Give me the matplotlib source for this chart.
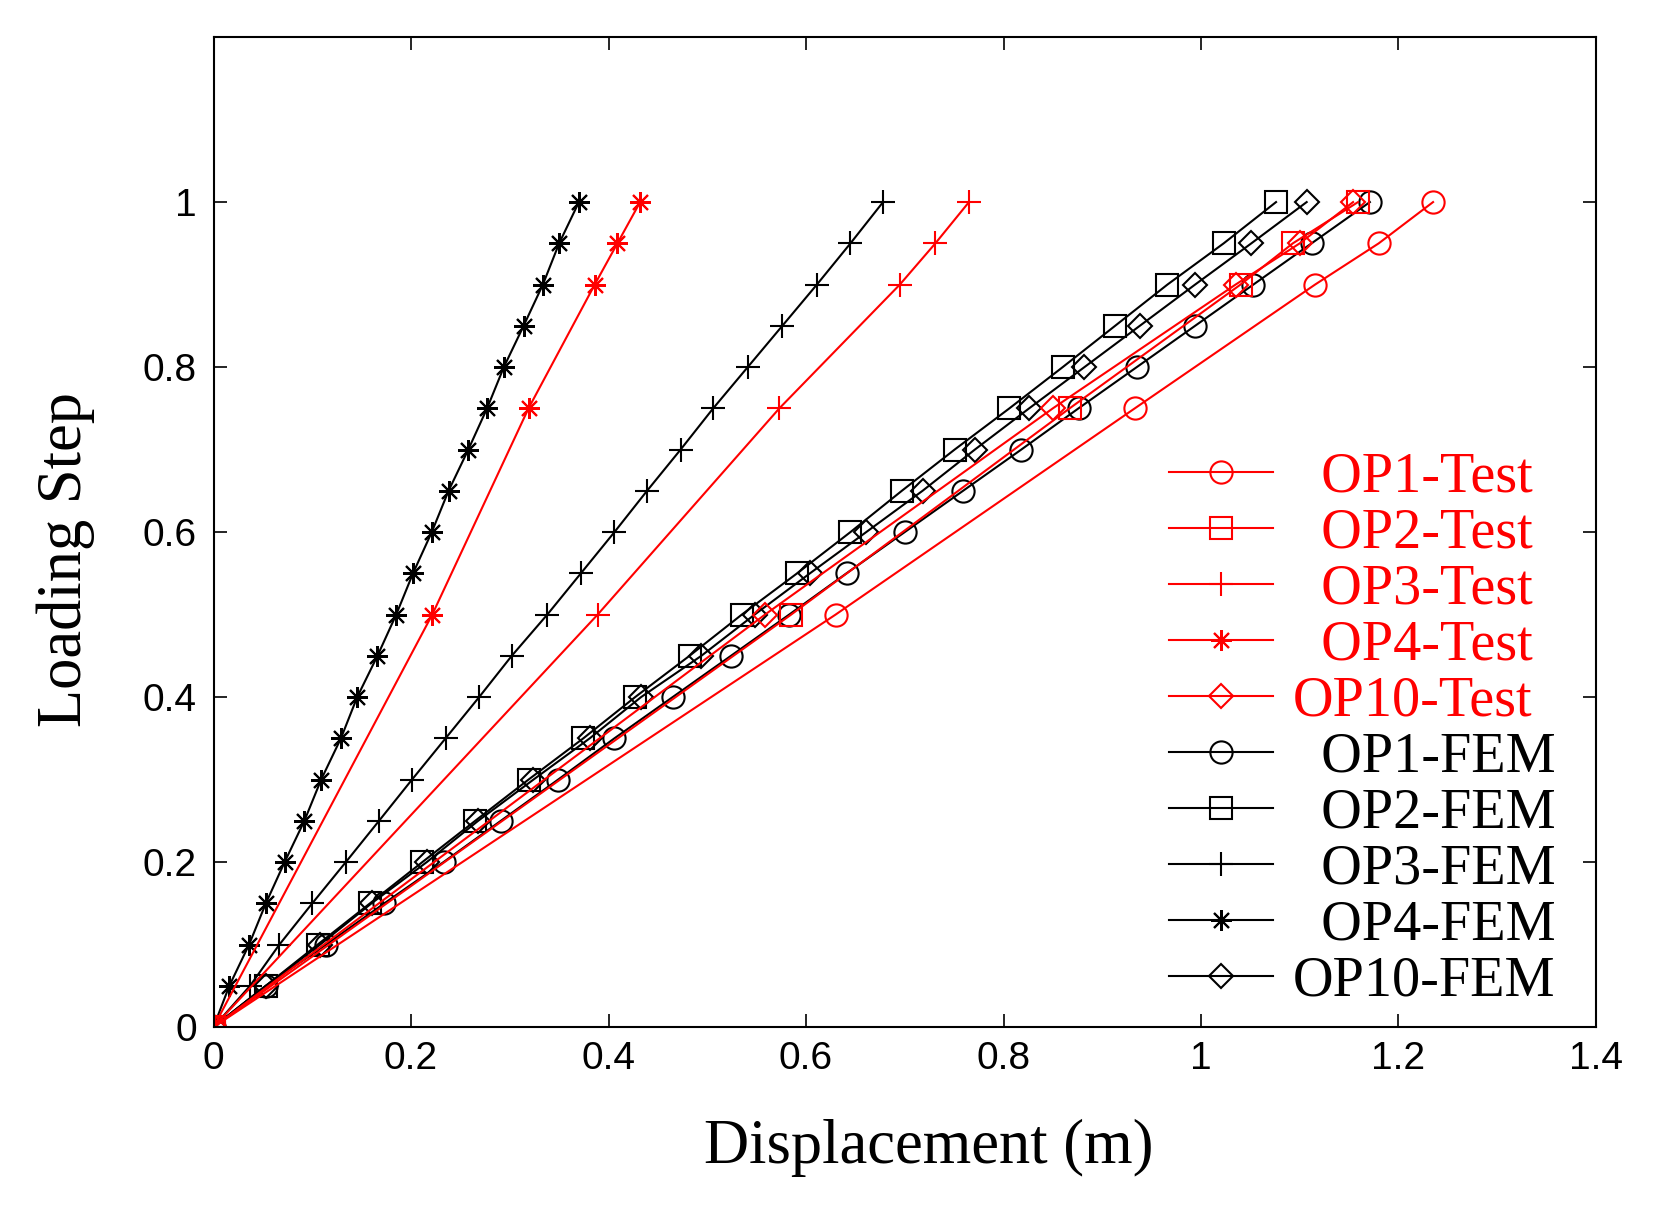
import numpy as np
import matplotlib
matplotlib.use("Agg")
from matplotlib import pyplot as plt

# loading steps
steps_fem = [0, 0.05, 0.1, 0.15, 0.2, 0.25, 0.3, 0.35, 0.4, 0.45, 0.5,
             0.55, 0.6, 0.65, 0.7, 0.75, 0.8, 0.85, 0.9, 0.95, 1.0]
steps_test = [0, 0.5, 0.75, 0.9, 0.95, 1.0]

# test displacements (m)
op1_test = [0, 0.630, 0.933, 1.1155, 1.180, 1.235]
op2_test = [0, 0.585, 0.867, 1.040, 1.093, 1.159]
op3_test = [0, 0.389, 0.573, 0.695, 0.731, 0.765]
op4_test = [0, 0.2215, 0.319, 0.386, 0.409, 0.432]
op10_test = [0, 0.5585, 0.850, 1.035, 1.100, 1.154]

# FEM displacements (m)
op1_fem = [0, 0.053, 0.114, 0.173, 0.233, 0.291, 0.349, 0.406, 0.465, 0.524, 0.583,
           0.641, 0.700, 0.759, 0.818, 0.876, 0.935, 0.994, 1.053, 1.112, 1.171]
op2_fem = [0, 0.053, 0.1055, 0.1585, 0.2115, 0.265, 0.319, 0.3745, 0.427, 0.482, 0.535,
           0.591, 0.645, 0.697, 0.7505, 0.806, 0.860, 0.913, 0.966, 1.023, 1.076]
op3_fem = [0, 0.037, 0.0667, 0.100, 0.134, 0.1676, 0.201, 0.235, 0.269, 0.302, 0.338,
           0.372, 0.406, 0.439, 0.473, 0.506, 0.541, 0.576, 0.611, 0.645, 0.678]
op4_fem = [0, 0.016, 0.036, 0.053, 0.072, 0.092, 0.109, 0.129, 0.1455, 0.166, 0.185,
           0.202, 0.221, 0.238, 0.258, 0.277, 0.294, 0.314, 0.3335, 0.350, 0.370]
op10_fem = [0, 0.053, 0.108, 0.160, 0.216, 0.268, 0.324, 0.381, 0.433, 0.494, 0.548,
            0.604, 0.661, 0.718, 0.771, 0.826, 0.882, 0.938, 0.994, 1.051, 1.107]

asterisk = (8, 2, 0)
markers = ["o", "s", "+", asterisk, "D"]
sizes = [16, 16, 17, 15, 12]
names = ["OP1", "OP2", "OP3", "OP4", "OP10"]
pads = ["  ", "  ", "  ", "  ", ""]
tests = [op1_test, op2_test, op3_test, op4_test, op10_test]
fems = [op1_fem, op2_fem, op3_fem, op4_fem, op10_fem]

fig = plt.figure(figsize=(16.58, 12.16), dpi=100)
ax = fig.add_axes([0.1288, 0.1554, 0.8338, 0.8141])

fem_handles = []
for x, m, s, name, p in zip(fems, markers, sizes, names, pads):
    h, = ax.plot(x, steps_fem, color="black", lw=1.5, marker=m, ms=s,
                 mfc="none", mec="black", mew=1.5, label=p + name + "-FEM")
    fem_handles.append(h)

test_handles = []
for x, m, s, name, p in zip(tests, markers, sizes, names, pads):
    h, = ax.plot(x, steps_test, color="red", lw=1.5, marker=m, ms=s,
                 mfc="none", mec="red", mew=1.5, label=p + name + "-Test")
    test_handles.append(h)

ax.set_xlim(0, 1.4)
ax.set_ylim(0, 1.2)
ax.set_xticks(np.arange(0, 1.41, 0.2))
ax.set_yticks(np.arange(0, 1.01, 0.2))
ax.set_xticklabels(["0", "0.2", "0.4", "0.6", "0.8", "1", "1.2", "1.4"])
ax.set_yticklabels(["0", "0.2", "0.4", "0.6", "0.8", "1"])
ax.tick_params(direction="in", length=9.4, width=1.2, top=True, right=True,
               labelsize=28)
ax.tick_params(axis="x", pad=10)
ax.tick_params(axis="y", pad=12)
for lab in ax.get_xticklabels() + ax.get_yticklabels():
    lab.set_family("Liberation Sans")
for sp in ax.spines.values():
    sp.set_linewidth(1.5)

ax.set_xlabel("Displacement (m)", family="Liberation Serif", fontsize=45)
ax.set_ylabel("Loading Step", family="Liberation Serif", fontsize=45)
ax.xaxis.set_label_coords(0.517, -0.093)
ax.yaxis.set_label_coords(-0.086, 0.472)

leg = ax.legend(handles=test_handles + fem_handles, loc="upper left",
                bbox_to_anchor=(0.691, 0.581), frameon=False, borderpad=0,
                borderaxespad=0, handlelength=1.85, handletextpad=0.35,
                labelspacing=0.07, prop={"family": "Liberation Serif", "size": 40.5})
for t in leg.get_texts()[:5]:
    t.set_color("red")

fig.savefig("out.png", dpi=100)
